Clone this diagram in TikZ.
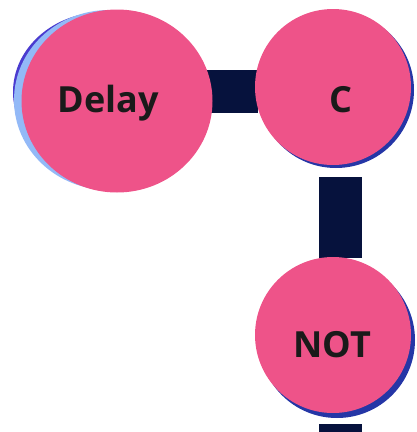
\documentclass[tikz,border=0pt]{standalone}
\usepackage{fontspec}
\setmainfont{Open Sans}
\usetikzlibrary{shapes.geometric, positioning, backgrounds}

\definecolor{gatepink}{HTML}{EE5389}
\definecolor{wirenavy}{HTML}{06123D}
\definecolor{halolight}{HTML}{93B9F7}
\definecolor{halopurple}{HTML}{4A3BCF}
\definecolor{shadowblue}{HTML}{2536A6}
\definecolor{labelink}{HTML}{1A1A1A}

\begin{document}
\begin{tikzpicture}[
    x=1pt, y=-1pt,
    gate/.style={circle, fill=gatepink, minimum size=156pt, inner sep=0pt},
    gateshadow/.style={circle, fill=shadowblue, minimum size=156pt, inner sep=0pt},
    gatelabel/.style={font=\fontsize{36}{40}\selectfont\bfseries, text=labelink},
    wire/.style={draw=white, line width=1.5pt, double=wirenavy, double distance=43pt, line cap=butt}
]
\useasboundingbox (0,0) rectangle (417,432);

% === DELAY (with halo) ===
\node[ellipse, fill=halopurple, minimum width=182pt, minimum height=160pt, inner sep=0pt] (delaypurple) at (104,92) {};
\node[ellipse, fill=halolight, minimum width=190pt, minimum height=180pt, inner sep=0pt] (delayhalo) at (109,100) {};
\node[ellipse, fill=gatepink, minimum width=191pt, minimum height=183pt, inner sep=0pt] (delay) at (117,101) {};

% === C and NOT gates ===
\node[gateshadow] (cshadow) at (336,90) {};
\node[gateshadow] (notshadow) at (337,340) {};

% === WIRES ===
\coordinate (cleft) at (258,91.5);
\coordinate (cbelow) at (340,177);
\coordinate (notabove) at (340,258);
\coordinate (notbelow) at (340,424);
\coordinate (out) at (340,445);
\begin{scope}[on background layer]
    \draw[wire] (delay.center |- cleft) -- (cleft);
    \draw[wire] (cbelow) -- (notabove);
    \draw[wire] (notbelow) -- (out);
\end{scope}

\node[gate] (c) at (333,87) {};
\node[gate] (not) at (333,335) {};

% === LABELS ===
\node[gatelabel] (delaytxt) at (108,103) {Delay};
\node[gatelabel] (ctxt) at (341,100) {C};
\node[gatelabel] (nottxt) at (332,345) {NOT};

\end{tikzpicture}
\end{document}
